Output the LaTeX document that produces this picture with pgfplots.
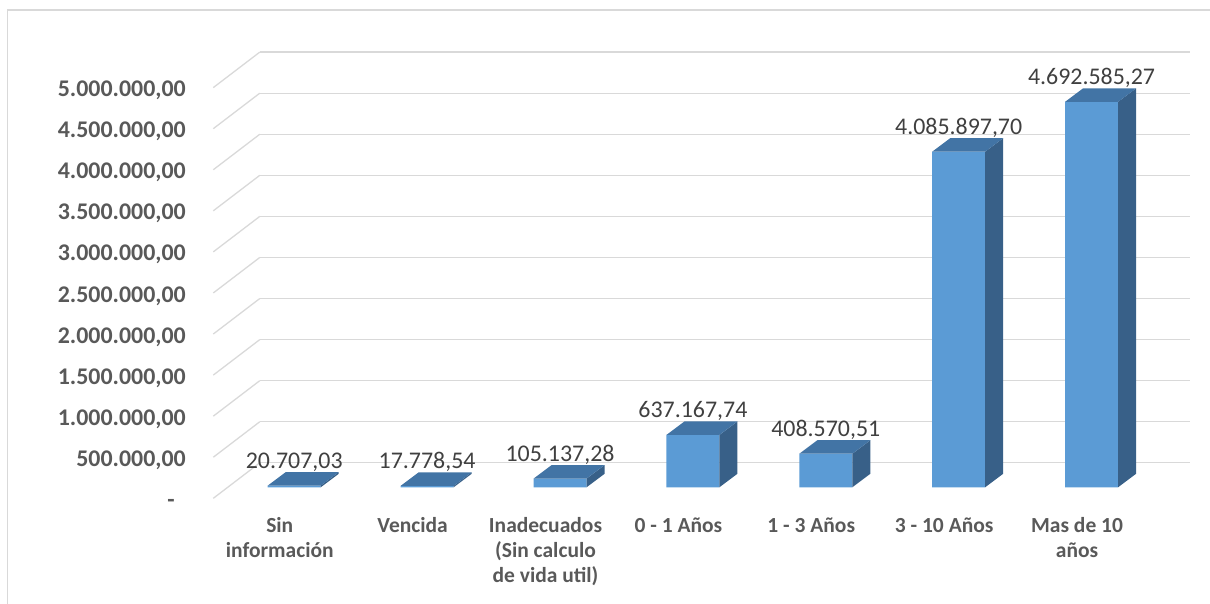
\documentclass[border=0pt]{standalone}
\usepackage{fontspec}
\setmainfont{Carlito}
\usepackage{pgfplots}
\usepackage{pgfplotstable}
\pgfplotsset{compat=1.18}

\definecolor{barfront}{RGB}{91,155,213}
\definecolor{bartop}{RGB}{66,116,165}
\definecolor{barside}{RGB}{56,96,136}
\definecolor{gridgray}{RGB}{217,217,217}
\definecolor{tickgray}{RGB}{89,89,89}
\definecolor{labelgray}{RGB}{64,64,64}

% Values per age band (category index, amount)
\pgfplotstableread{
i v
0 20707.03
1 17778.54
2 105137.28
3 637167.74
4 408570.51
5 4085897.70
6 4692585.27
}\datatable

% Top and right side of a 3D column, drawn at the front-top centre of the bar.
% Front face is 53pt wide, depth offset is (18pt, 13.5pt).
% The height of the side face follows the value: 410.7pt per 5.000.000.
\pgfdeclareplotmark{columncap}{%
  \begingroup
    \pgfkeys{/pgf/fpu=true,/pgf/fpu/output format=fixed}%
    \pgfmathparse{\rawv*410.7/5000000}%
    \xdef\barH{\pgfmathresult}%
  \endgroup
  \pgfsetfillcolor{barside}%
  \pgfpathmoveto{\pgfqpoint{26.5pt}{0pt}}%
  \pgfpathlineto{\pgfqpoint{44.5pt}{13.5pt}}%
  \pgfpathlineto{\pgfpoint{44.5pt}{\dimexpr13.5pt-\barH pt\relax}}%
  \pgfpathlineto{\pgfpoint{26.5pt}{-\barH pt}}%
  \pgfpathclose
  \pgfusepath{fill}%
  \pgfsetfillcolor{bartop}%
  \pgfpathmoveto{\pgfqpoint{-26.5pt}{0pt}}%
  \pgfpathlineto{\pgfqpoint{26.5pt}{0pt}}%
  \pgfpathlineto{\pgfqpoint{44.5pt}{13.5pt}}%
  \pgfpathlineto{\pgfqpoint{-8.5pt}{13.5pt}}%
  \pgfpathclose
  \pgfusepath{fill}%
}

\begin{document}
\begin{tikzpicture}
\path[use as bounding box] (0pt,0pt) rectangle (1210pt,603pt);
% chart area frame
\draw[gridgray, line width=1.3pt] (7.3pt,-5pt) -- (7.3pt,593pt) -- (1215pt,593pt);

% back wall with gridlines and floor diagonals
\begin{axis}[
  at={(259.8pt,140.2pt)}, anchor=south west,
  scale only axis, width=930.2pt, height=410.7pt,
  xmin=0, xmax=1, ymin=0, ymax=5000000,
  axis line style={draw=none},
  major tick length=0pt,
  xtick=\empty,
  ytick={0,500000,1000000,1500000,2000000,2500000,3000000,3500000,4000000,4500000,5000000},
  yticklabels={},
  scaled ticks=false,
  ymajorgrids,
  major grid style={gridgray, line width=1.3pt},
  clip=false,
]
\pgfplotsinvokeforeach{0,500000,1000000,1500000,2000000,2500000,3000000,3500000,4000000,4500000,5000000}{
  \draw[gridgray, line width=1.3pt] (axis cs:0,#1) -- ++(-46.5pt,-35.5pt);
}
\end{axis}

% columns
\begin{axis}[
  at={(227.8pt,115.7pt)}, anchor=south west,
  scale only axis, width=930.2pt, height=410.7pt,
  xmin=-0.5, xmax=6.5, ymin=0, ymax=5000000,
  axis line style={draw=none},
  major tick length=0pt,
  scaled ticks=false,
  clip=false,
  xtick={0,1,2,3,4,5,6},
  xticklabels={{Sin\\información},{Vencida},{Inadecuados\\(Sin calculo\\de vida util)},{0 - 1 Años},{1 - 3 Años},{3 - 10 Años},{Mas de 10\\años}},
  xticklabel style={font=\fontsize{21.5}{25}\selectfont\bfseries, text=tickgray,
    align=center, anchor=north, inner sep=0pt, xshift=-14.5pt, yshift=-30.2pt},
  ytick={0,500000,1000000,1500000,2000000,2500000,3000000,3500000,4000000,4500000,5000000},
  yticklabels={{-\hspace*{11pt}},{500.000,00},{1.000.000,00},{1.500.000,00},{2.000.000,00},{2.500.000,00},{3.000.000,00},{3.500.000,00},{4.000.000,00},{4.500.000,00},{5.000.000,00}},
  yticklabel style={font=\fontsize{23.9}{28}\selectfont\bfseries, text=tickgray,
    anchor=base east, inner sep=0pt, xshift=-41.8pt, yshift=-20.1pt},
]
\addplot[ybar, bar width=53pt, fill=barfront, draw=none,
  point meta=explicit symbolic,
  nodes near coords={\pgfmathprintnumber[fixed, fixed zerofill, precision=2, use comma, 1000 sep={.}, assume math mode=true]{\pgfplotspointmeta}},
  every node near coord/.append style={font=\fontsize{23.9}{28}\selectfont, text=labelgray,
    anchor=base, inner sep=0pt, yshift=17.5pt},
] table[x=i, y=v, meta=v] {\datatable};
\addplot[only marks, mark=columncap,
  visualization depends on=rawy \as \rawv,
] table[x=i, y=v] {\datatable};
\end{axis}
\end{tikzpicture}
\end{document}
